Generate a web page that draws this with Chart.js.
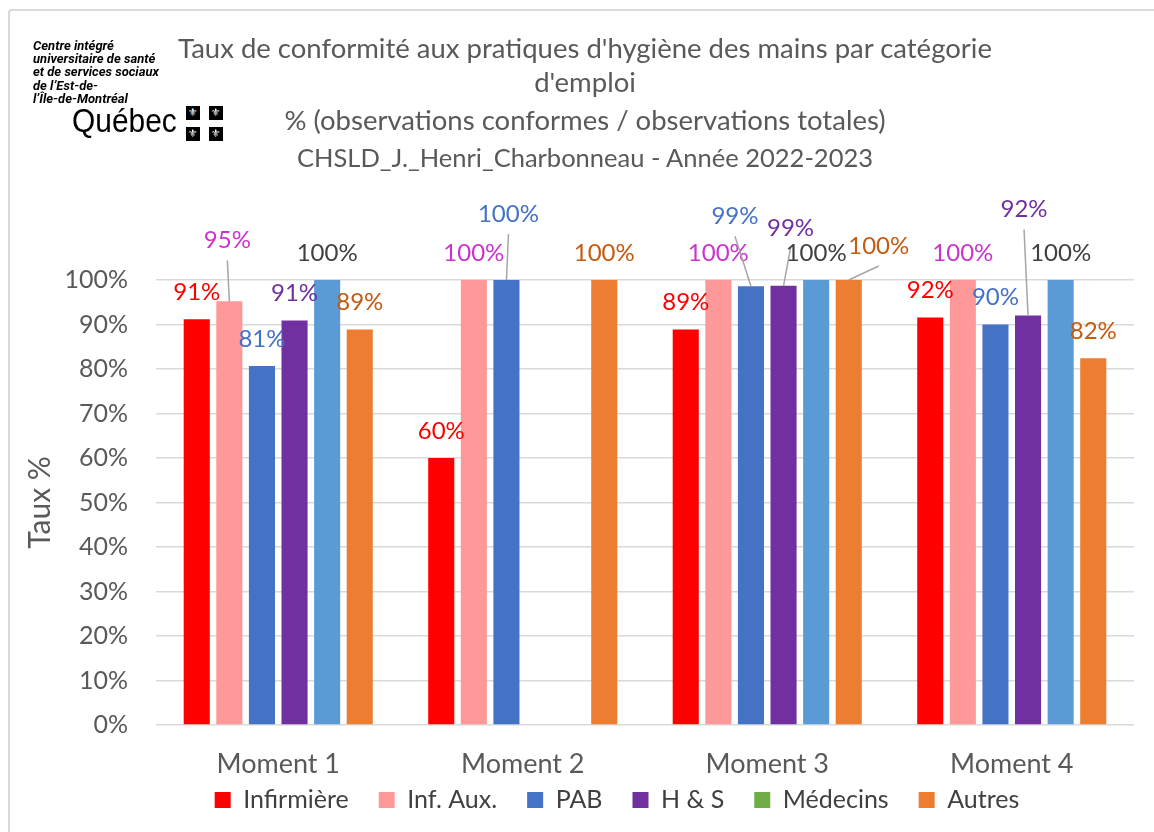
<!DOCTYPE html>
<html lang="fr">
<head>
<meta charset="utf-8">
<title>Taux de conformité - hygiène des mains</title>
<script src="https://cdn.jsdelivr.net/npm/chart.js"></script>
<style>
  html, body { margin: 0; padding: 0; background: #fff; overflow: hidden; }
  #wrap { position: relative; width: 1154px; height: 832px; overflow: hidden; }
  #frame { position: absolute; left: 8px; top: 9px; width: 1170px; height: 850px;
           border: 2px solid #d9d9d9; border-radius: 4px; box-sizing: border-box; }
  canvas { position: absolute; left: 0; top: 0; }
  .title { position: absolute; left: 0; width: 1170px; text-align: center;
           font-family: Lato, sans-serif; font-size: 27.5px; color: #595959; white-space: nowrap; }
  #org { position: absolute; left: 33px; top: 39px; font-family: Roboto, sans-serif;
         font-weight: bold; font-style: italic; font-size: 13px; line-height: 13.2px; color: #000; }
  #qc { position: absolute; left: 72px; top: 103px; font-family: "Liberation Sans", sans-serif;
        font-size: 34px; line-height: 34px; color: #000; transform: scaleX(0.88); transform-origin: left top; }
  .fl { position: absolute; width: 14px; height: 14px; background: #000; color: #fff;
        font-family: "DejaVu Sans", sans-serif; font-size: 11px; line-height: 14px; text-align: center; }
</style>
</head>
<body>
<div id="wrap">
  <div id="frame"></div>
  <canvas id="chart" width="1154" height="848"></canvas>
  <div class="title" style="top:31px; line-height:34px;">Taux de conformité aux pratiques d'hygiène des mains par catégorie<br>d'emploi</div>
  <div class="title" style="top:101px; line-height:37px;">% (observations conformes / observations totales)<br><span style="font-size:25.5px">CHSLD_J._Henri_Charbonneau - Année 2022-2023</span></div>
  <div id="org">Centre intégré<br>universitaire de santé<br>et de services sociaux<br>de l’Est-de-<br>l’Île-de-Montréal</div>
  <div id="qc">Québec</div>
  <div class="fl" style="left:186px; top:106px;">⚜</div>
  <div class="fl" style="left:209px; top:106px;">⚜</div>
  <div class="fl" style="left:186px; top:127px;">⚜</div>
  <div class="fl" style="left:209px; top:127px;">⚜</div>
</div>
<script>
// categories and series (taux en %)
const categories = ['Moment 1', 'Moment 2', 'Moment 3', 'Moment 4'];
const seriesNames = ['Infirmière', 'Inf. Aux.', 'PAB', 'H & S', 'Médecins', 'Autres'];
const infirmiere = [91.2, 60.0, 88.9, 91.6];
const infAux = [95.2, 100, 100, 100];
const pab = [80.7, 100, 98.6, 90.0];
const hs = [90.9, null, 98.7, 92.0];
const medecins = [100, null, 100, 100];
const autres = [88.9, 100, 100, 82.4];
const yTicks = [0, 10, 20, 30, 40, 50, 60, 70, 80, 90, 100];

const barColors = ['#FF0000', '#FF9999', '#4472C4', '#7030A0', '#5B9BD5', '#ED7D31'];
const labelColors = ['#FF0000', '#CC33CC', '#4472C4', '#7030A0', '#404040', '#C55A11'];
const medecinsLegendColor = '#70AD47';

// labels that were moved by hand in the original, with a leader line
const labelNudge = {
  '1-0': { dx: -2, dy: -34, leader: true },
  '2-1': { dx: 2, dy: -39, leader: true },
  '2-2': { dx: -16, dy: -43, leader: true },
  '3-2': { dx: 7, dy: -31, leader: true },
  '5-2': { dx: 30, dy: -7, leader: true },
  '3-3': { dx: -4, dy: -79, leader: true }
};

const seriesValues = [infirmiere, infAux, pab, hs, medecins, autres];

const barLabels = {
  id: 'barLabels',
  afterDatasetsDraw(chart) {
    const ctx = chart.ctx;
    ctx.save();
    ctx.font = '24px Lato';
    ctx.textAlign = 'center';
    ctx.textBaseline = 'middle';
    chart.data.datasets.forEach((ds, di) => {
      const meta = chart.getDatasetMeta(di);
      meta.data.forEach((bar, i) => {
        const v = ds.data[i];
        if (v == null) return;
        const n = labelNudge[di + '-' + i] || { dx: 0, dy: 0 };
        const x = bar.x + n.dx;
        const y = bar.y - 27 + n.dy;
        if (n.leader) {
          ctx.strokeStyle = '#A6A6A6';
          ctx.lineWidth = 1.5;
          ctx.beginPath();
          ctx.moveTo(x, y + 20);
          ctx.lineTo(bar.x, bar.y);
          ctx.stroke();
        }
        ctx.fillStyle = labelColors[di];
        ctx.fillText(Math.round(v) + '%', x, y);
      });
    });
    ctx.restore();
  }
};

// move the legend: a bit right of centre and closer to the axis labels
const legendShift = {
  id: 'legendShift',
  afterLayout(chart) {
    const lg = chart.legend;
    if (!lg) return;
    const h = lg.bottom - lg.top;
    lg.left += 46;
    lg.right += 46;
    lg.top = 757.5;
    lg.bottom = 757.5 + h;
  }
};

new Chart(document.getElementById('chart'), {
  type: 'bar',
  data: {
    labels: categories,
    datasets: seriesNames.map((name, i) => ({
      label: name,
      data: seriesValues[i],
      backgroundColor: barColors[i],
      borderWidth: 0,
      categoryPercentage: 0.8,
      barPercentage: 0.8
    }))
  },
  options: {
    responsive: false,
    animation: false,
    devicePixelRatio: 1,
    layout: { padding: { top: 280, left: 8, right: 20, bottom: 0 } },
    scales: {
      x: {
        grid: { display: false, drawTicks: false },
        border: { display: false },
        ticks: { color: '#595959', font: { family: 'Lato', size: 27 }, padding: 23 },
        afterFit(scale) { scale.height = 58; }
      },
      y: {
        min: 0,
        max: 100,
        afterBuildTicks(scale) { scale.ticks = yTicks.map(v => ({ value: v })); },
        grid: { color: '#D9D9D9', lineWidth: 1.5, drawTicks: false },
        border: { display: false },
        ticks: {
          color: '#595959',
          font: { family: 'Lato', size: 25 },
          padding: 28,
          callback: v => v + '%'
        },
        title: {
          display: true,
          text: 'Taux %',
          color: '#595959',
          font: { family: 'Lato', size: 30 },
          padding: { top: 14, bottom: 0 }
        },
        afterFit(scale) { scale.width = 148; }
      }
    },
    plugins: {
      title: { display: false },
      tooltip: { enabled: false },
      legend: {
        position: 'bottom',
        labels: {
          color: '#404040',
          font: { family: 'Lato', size: 25 },
          boxWidth: 16,
          boxHeight: 16,
          padding: 30,
          generateLabels(chart) {
            const items = Chart.defaults.plugins.legend.labels.generateLabels(chart);
            items[4].fillStyle = medecinsLegendColor;
            items[4].strokeStyle = medecinsLegendColor;
            items.forEach(it => { it.lineWidth = 0; });
            return items;
          }
        }
      }
    }
  },
  plugins: [barLabels, legendShift]
});
</script>
</body>
</html>
